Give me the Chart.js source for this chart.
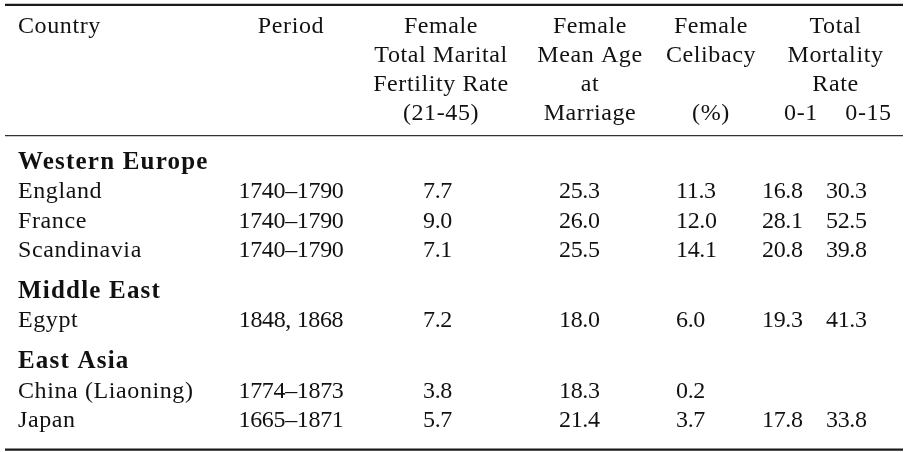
<!DOCTYPE html>
<html>
<head>
<meta charset="utf-8">
<script src="https://cdn.jsdelivr.net/npm/chart.js@4/dist/chart.umd.min.js"></script>
<style>
  html, body { margin: 0; padding: 0; background: #ffffff; }
  #wrap { width: 907px; height: 452px; }
</style>
</head>
<body>
<div id="wrap"><canvas id="c" width="907" height="452"></canvas></div>
<script>
// ---------------- data ----------------
const regions   = ['Western Europe', 'Middle East', 'East Asia'];
const countries = ['England', 'France', 'Scandinavia', 'Egypt', 'China (Liaoning)', 'Japan'];
const regionOf  = [0, 0, 0, 1, 2, 2];
const periods   = ['1740–1790', '1740–1790', '1740–1790', '1848, 1868', '1774–1873', '1665–1871'];
const fertility = [7.7, 9.0, 7.1, 7.2, 3.8, 5.7];
const meanAge   = [25.3, 26.0, 25.5, 18.0, 18.3, 21.4];
const celibacy  = [11.3, 12.0, 14.1, 6.0, 0.2, 3.7];
const mort01    = [16.8, 28.1, 20.8, 19.3, null, 17.8];
const mort015   = [30.3, 52.5, 39.8, 41.3, null, 33.8];

const headCountry   = ['Country'];
const headPeriod    = ['Period'];
const headFertility = ['Female', 'Total Marital', 'Fertility Rate', '(21-45)'];
const headAge       = ['Female', 'Mean Age', 'at', 'Marriage'];
const headCelibacy  = ['Female', 'Celibacy', '', '(%)'];
const headMortality = ['Total', 'Mortality', 'Rate'];
const headMortSub   = ['0-1', '0-15'];

// ---------------- layout (not data) ----------------
const COL = {
  country:   { head: 18,    headAlign: 'left',   body: 18,  bodyAlign: 'left' },
  period:    { head: 291,   headAlign: 'center', body: 291, bodyAlign: 'center' },
  fertility: { head: 441,   headAlign: 'center', body: 423, bodyAlign: 'left' },
  age:       { head: 590,   headAlign: 'center', body: 559, bodyAlign: 'left' },
  celibacy:  { head: 711,   headAlign: 'center', body: 676, bodyAlign: 'left' },
  mortality: { head: 835.5, headAlign: 'center' },
  m01:       { head: 801,   headAlign: 'center', body: 762, bodyAlign: 'left' },
  m015:      { head: 868.5, headAlign: 'center', body: 826, bodyAlign: 'left' }
};
const FIRST_GROUP_GAP = 1.68; // row units from last header line to first group title
const GROUP_GAP = 1.42;       // row units from last row of a group to next group title
const RULE_LEFT = 5, RULE_RIGHT = 903;

// ---------------- build cells ----------------
const cells = [];
function addHead(lines, col, align) {
  lines.forEach((t, i) => { if (t) cells.push({ x: col, y: i, text: t, align: align, kind: 'text' }); });
}
addHead(headCountry, COL.country.head, COL.country.headAlign);
addHead(headPeriod, COL.period.head, COL.period.headAlign);
addHead(headFertility, COL.fertility.head, COL.fertility.headAlign);
addHead(headAge, COL.age.head, COL.age.headAlign);
addHead(headCelibacy, COL.celibacy.head, COL.celibacy.headAlign);
addHead(headMortality, COL.mortality.head, COL.mortality.headAlign);
cells.push({ x: COL.m01.head, y: 3, text: headMortSub[0], align: 'center', kind: 'text' });
cells.push({ x: COL.m015.head, y: 3, text: headMortSub[1], align: 'center', kind: 'text' });

const headerLast = 3;
let pos = headerLast;
let lastRegion = -1;
countries.forEach((name, i) => {
  if (regionOf[i] !== lastRegion) {
    pos += (lastRegion === -1 ? FIRST_GROUP_GAP : GROUP_GAP);
    cells.push({ x: COL.country.body, y: pos, text: regions[regionOf[i]], align: 'left', kind: 'bold' });
    lastRegion = regionOf[i];
  }
  pos += 1;
  cells.push({ x: COL.country.body, y: pos, text: name, align: 'left', kind: 'text' });
  cells.push({ x: COL.period.body, y: pos, text: periods[i], align: COL.period.bodyAlign, kind: 'num' });
  const vals = [[fertility, COL.fertility], [meanAge, COL.age], [celibacy, COL.celibacy], [mort01, COL.m01], [mort015, COL.m015]];
  vals.forEach(([arr, c]) => {
    if (arr[i] !== null && arr[i] !== undefined) {
      cells.push({ x: c.body, y: pos, text: arr[i].toFixed(1), align: c.bodyAlign, kind: 'num' });
    }
  });
});
const lastRow = pos;

const topRule = -0.97;
const midRule = headerLast + 0.52;
const botRule = lastRow + 0.79;

function rule(y, w, color) {
  return {
    type: 'line', data: [{ x: RULE_LEFT, y: y }, { x: RULE_RIGHT, y: y }],
    borderColor: color, borderWidth: w, pointRadius: 0, showLine: true, fill: false
  };
}

const UNIT_PX = 29.1;
const Y_MIN = -1.14;
const Y_MAX = Y_MIN + 452 / UNIT_PX;

const textPlugin = {
  id: 'cellText',
  afterDatasetsDraw(chart) {
    const ctx = chart.ctx;
    const dsIndex = chart.data.datasets.findIndex(d => d.label === 'cells');
    const meta = chart.getDatasetMeta(dsIndex);
    const data = chart.data.datasets[dsIndex].data;
    ctx.save();
    ctx.fillStyle = '#111111';
    ctx.textBaseline = 'alphabetic';
    meta.data.forEach((pt, i) => {
      const c = data[i];
      if (c.kind === 'bold') {
        ctx.font = 'bold 25px "Liberation Serif"';
        ctx.letterSpacing = '1.2px';
      } else if (c.kind === 'num') {
        ctx.font = '24px "Liberation Serif"';
        ctx.letterSpacing = '-0.35px';
      } else {
        ctx.font = '24px "Liberation Serif"';
        ctx.letterSpacing = '0.6px';
      }
      ctx.textAlign = c.align;
      ctx.fillText(c.text, pt.x, pt.y);
    });
    ctx.restore();
  }
};

new Chart(document.getElementById('c'), {
  type: 'scatter',
  data: {
    datasets: [
      { label: 'cells', data: cells, pointRadius: 0, pointHoverRadius: 0, showLine: false },
      rule(topRule, 2.2, '#1a1a1a'),
      rule(midRule, 1.4, '#333333'),
      rule(botRule, 2.2, '#1a1a1a')
    ]
  },
  options: {
    responsive: false,
    animation: false,
    devicePixelRatio: 1,
    layout: { padding: 0 },
    plugins: { legend: { display: false }, tooltip: { enabled: false } },
    events: [],
    scales: {
      x: { type: 'linear', display: false, min: 0, max: 907 },
      y: { type: 'linear', display: false, reverse: true, min: Y_MIN, max: Y_MAX }
    }
  },
  plugins: [textPlugin]
});
</script>
</body>
</html>
